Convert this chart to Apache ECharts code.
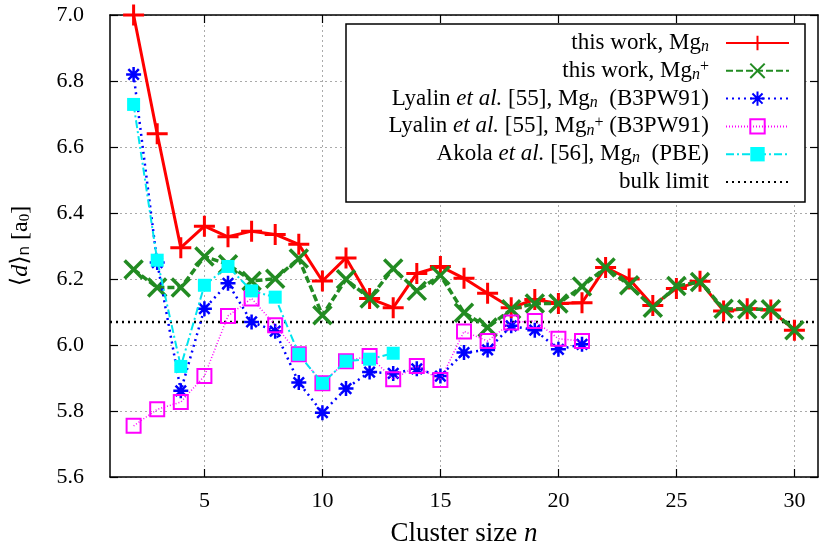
<!DOCTYPE html>
<html>
<head>
<meta charset="utf-8">
<script src="https://cdn.jsdelivr.net/npm/echarts@6/dist/echarts.min.js"></script>
<style>
  html, body { margin: 0; padding: 0; background: #fff; }
  #chart { width: 831px; height: 552px; }
</style>
</head>
<body>
<div id="chart"></div>
<script>
// cluster sizes
const nAll = [2,3,4,5,6,7,8,9,10,11,12,13,14,15,16,17,18,19,20,21,22,23,24,25,26,27,28,29,30]
const nLyalin = [2,3,4,5,6,7,8,9,10,11,12,13,14,15,16,17,18,19,20,21]
const nAkola = [2,3,4,5,6,7,8,9,10,11,12,13]

// mean bond length <d>_n in a0
const thisWorkNeutral = [7.0,6.64,6.295,6.36,6.328,6.345,6.335,6.305,6.194,6.264,6.141,6.113,6.217,6.238,6.202,6.157,6.113,6.138,6.126,6.128,6.235,6.2,6.12,6.171,6.193,6.103,6.11,6.106,6.045]
const thisWorkCation = [6.229,6.174,6.174,6.268,6.245,6.194,6.201,6.262,6.09,6.199,6.141,6.232,6.164,6.211,6.098,6.053,6.108,6.126,6.126,6.177,6.235,6.181,6.113,6.179,6.191,6.11,6.108,6.108,6.045]
const lyalinNeutral = [6.82,6.25,5.861,6.11,6.187,6.07,6.042,5.886,5.795,5.868,5.918,5.914,5.928,5.906,5.977,5.985,6.058,6.045,5.987,6.002]
const lyalinCation = [5.755,5.805,5.827,5.906,6.088,6.141,6.06,5.972,5.884,5.951,5.967,5.896,5.936,5.894,6.041,6.012,6.068,6.073,6.019,6.012]
const akolaNeutral = [6.729,6.257,5.935,6.181,6.238,6.164,6.145,5.972,5.884,5.951,5.957,5.975]
const bulkLimit = 6.07

const xTicks = [5,10,15,20,25,30]
const xMin = 1, xMax = 31
const yMin = 5.6, yMax = 7.0, yStep = 0.2

const seriesNames = ['tw_n', 'tw_np', 'ly_n', 'ly_np', 'ak_n', 'bulk']
const legendLabels = {
  tw_n: 'this work, Mg{sub|n}',
  tw_np: 'this work, Mg{sub|n}{sup|+}',
  ly_n: 'Lyalin {it|et al.} [55], Mg{sub|n}  (B3PW91)',
  ly_np: 'Lyalin {it|et al.} [55], Mg{sub|n}{sup|+} (B3PW91)',
  ak_n: 'Akola {it|et al.} [56], Mg{sub|n}  (PBE)',
  bulk: 'bulk limit'
}

const pair = (xs, ys) => xs.map((x, i) => [x, ys[i]])

const serif = "'Liberation Serif', 'DejaVu Serif', serif"
const richText = {
  sub: { fontFamily: serif, fontSize: 16, fontStyle: 'italic', verticalAlign: 'bottom', lineHeight: 13, color: '#000' },
  sup: { fontFamily: serif, fontSize: 16, verticalAlign: 'top', lineHeight: 13, color: '#000' },
  it: { fontFamily: serif, fontSize: 23, fontStyle: 'italic', color: '#000' }
}

const chart = echarts.init(document.getElementById('chart'))

// one legend per entry so the text is right-aligned with the sample on its right
const legends = seriesNames.map((name, i) => ({
  data: [name === 'bulk' ? { name, itemStyle: { color: 'rgba(0,0,0,0)', borderWidth: 0 } } : name],
  orient: 'vertical',
  right: 41,
  top: 31 + i * 27.8,
  padding: 0,
  align: 'right',
  itemWidth: 63,
  itemHeight: 18,
  selectedMode: false,
  formatter: n => legendLabels[n],
  textStyle: {
    fontFamily: serif,
    fontSize: 23,
    color: '#000',
    lineHeight: 24,
    padding: [0, 12, 0, 0],
    rich: richText
  },
  z: 10
}))

const axisCommonX = {
  type: 'value',
  min: xMin,
  max: xMax,
  axisLine: { onZero: false, lineStyle: { color: '#000', width: 1.5 } },
  axisTick: { inside: true, length: 8, customValues: xTicks, lineStyle: { color: '#000', width: 1.2 } }
}
const axisCommonY = {
  type: 'value',
  min: yMin,
  max: yMax,
  interval: yStep,
  axisLine: { onZero: false, lineStyle: { color: '#000', width: 1.5 } },
  axisTick: { inside: true, length: 8, lineStyle: { color: '#000', width: 1.2 } }
}

chart.setOption({
  animation: false,
  backgroundColor: '#fff',
  grid: { left: 110, right: 13, top: 15, bottom: 74 },
  legend: legends,
  graphic: [{
    type: 'rect',
    z: 5,
    shape: { x: 346, y: 24, width: 459, height: 178 },
    style: { fill: '#fff', stroke: '#000', lineWidth: 1.5 }
  }],
  xAxis: [
    Object.assign({}, axisCommonX, {
      position: 'bottom',
      name: 'Cluster size {it|n}',
      nameLocation: 'middle',
      nameGap: 43,
      nameTextStyle: { fontFamily: serif, fontSize: 27, color: '#000', rich: { it: { fontFamily: serif, fontSize: 27, fontStyle: 'italic', color: '#000' } } },
      axisLabel: { customValues: xTicks, margin: 13, fontFamily: serif, fontSize: 22, color: '#000' },
      splitLine: { show: true, lineStyle: { color: '#aaa', type: [2, 3], width: 1 } }
    }),
    Object.assign({}, axisCommonX, {
      position: 'top',
      axisLabel: { show: false },
      splitLine: { show: false }
    })
  ],
  yAxis: [
    Object.assign({}, axisCommonY, {
      position: 'left',
      name: '⟨{it|d}⟩{sf|n} [a{sub|0}]',
      nameLocation: 'middle',
      nameGap: 77,
      nameRotate: 90,
      nameTextStyle: {
        fontFamily: serif, fontSize: 24, color: '#000',
        rich: {
          it: { fontFamily: serif, fontSize: 24, fontStyle: 'italic', color: '#000' },
          sf: { fontFamily: "'DejaVu Sans', sans-serif", fontSize: 15, verticalAlign: 'bottom', lineHeight: 14, color: '#000' },
          sub: { fontFamily: serif, fontSize: 15, verticalAlign: 'bottom', lineHeight: 14, color: '#000' }
        }
      },
      axisLabel: { margin: 26, fontFamily: serif, fontSize: 22, color: '#000', formatter: v => v.toFixed(1) },
      splitLine: { show: true, lineStyle: { color: '#aaa', type: [2, 3], width: 1 } }
    }),
    Object.assign({}, axisCommonY, {
      position: 'right',
      axisLabel: { show: false },
      splitLine: { show: false }
    })
  ],
  series: [
    {
      name: 'bulk',
      type: 'line',
      data: [[xMin, bulkLimit], [xMax, bulkLimit]],
      symbol: 'none',
      lineStyle: { color: '#000', width: 2.5, type: [2, 4] },
      itemStyle: { color: '#000' },
      z: 1
    },
    {
      name: 'tw_n',
      type: 'line',
      data: pair(nAll, thisWorkNeutral),
      symbol: 'path://M0,10H20M10,0V20',
      symbolSize: 21,
      lineStyle: { color: '#ff0000', width: 3 },
      itemStyle: { color: '#ff0000', borderColor: '#ff0000', borderWidth: 3 },
      z: 2
    },
    {
      name: 'tw_np',
      type: 'line',
      data: pair(nAll, thisWorkCation),
      symbol: 'path://M0,0L20,20M0,20L20,0',
      symbolSize: 18,
      lineStyle: { color: '#228b22', width: 3.5, type: [7, 3] },
      itemStyle: { color: '#228b22', borderColor: '#228b22', borderWidth: 3.5 },
      z: 3
    },
    {
      name: 'ly_n',
      type: 'line',
      data: pair(nLyalin, lyalinNeutral),
      symbol: 'path://M0,10H20M10,0V20M3,3L17,17M3,17L17,3',
      symbolSize: 15,
      lineStyle: { color: '#0000ff', width: 2.5, type: [2, 4] },
      itemStyle: { color: '#0000ff', borderColor: '#0000ff', borderWidth: 2.5 },
      z: 4
    },
    {
      name: 'ly_np',
      type: 'line',
      data: pair(nLyalin, lyalinCation),
      symbol: 'path://M0,0H20V20H0Z',
      symbolSize: 14,
      lineStyle: { color: '#ff00ff', width: 1.5, type: [1, 2] },
      itemStyle: { color: 'rgba(0,0,0,0)', borderColor: '#ff00ff', borderWidth: 2 },
      z: 5
    },
    {
      name: 'ak_n',
      type: 'line',
      data: pair(nAkola, akolaNeutral),
      symbol: 'rect',
      symbolSize: 13,
      lineStyle: { color: '#00e5ee', width: 2, type: [8, 3, 2, 3] },
      itemStyle: { color: '#00ffff' },
      z: 6
    }
  ]
})
</script>
</body>
</html>
